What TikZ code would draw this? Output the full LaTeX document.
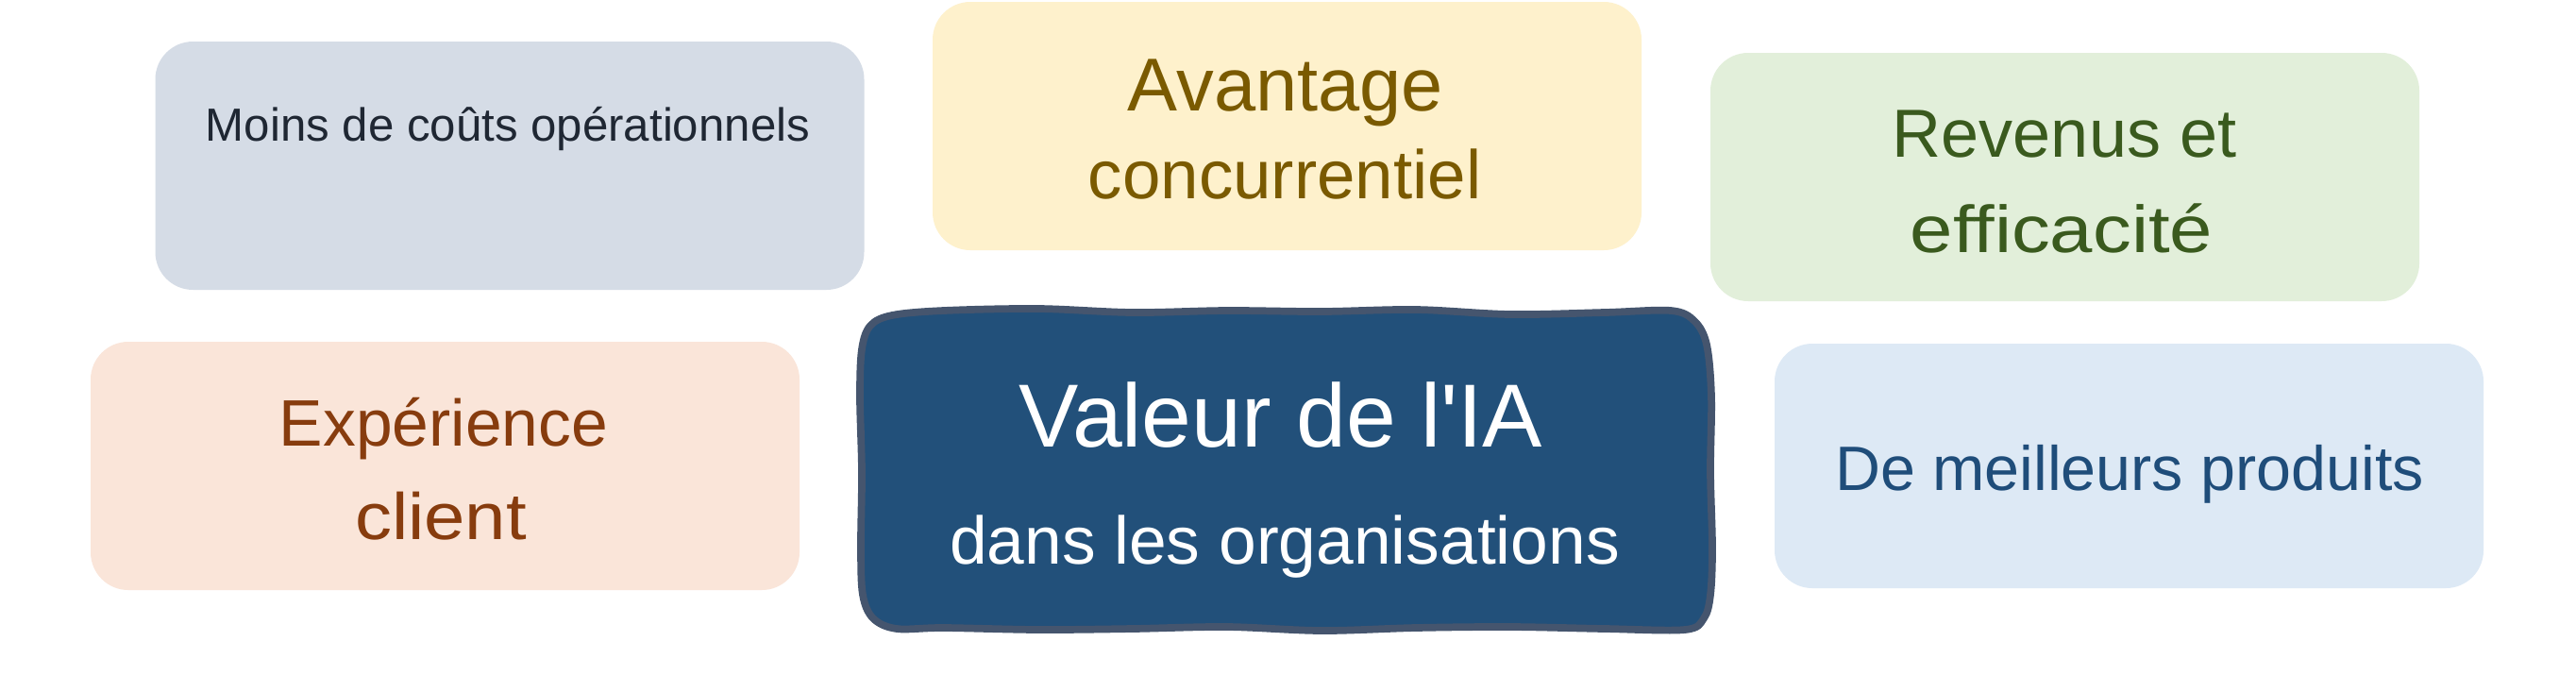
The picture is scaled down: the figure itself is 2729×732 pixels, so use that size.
\documentclass[tikz,border=0pt]{standalone}
\usepackage{fontspec}
\setmainfont{Liberation Sans}[Ligatures=TeXOff]
\definecolor{moinsF}{HTML}{D5DCE6}
\definecolor{moinsT}{HTML}{1F2733}
\definecolor{avantF}{HTML}{FEF1CC}
\definecolor{avantT}{HTML}{7A5A00}
\definecolor{revenF}{HTML}{E2EFDA}
\definecolor{revenT}{HTML}{3A5A1E}
\definecolor{experF}{HTML}{FAE5D9}
\definecolor{experT}{HTML}{873C0E}
\definecolor{meillF}{HTML}{DDE9F5}
\definecolor{meillT}{HTML}{1F4D7A}
\definecolor{centF}{HTML}{22507A}
\definecolor{centB}{HTML}{45556E}
\newcommand{\fs}[1]{\fontsize{#1}{#1}\selectfont}
\begin{document}
\begin{tikzpicture}[x=0.1mm,y=-0.1mm,
  box/.style={draw=none, rounded corners=4mm, inner sep=0pt, minimum width=75.1mm, minimum height=26.3mm},
  lbl/.style={anchor=base, inner sep=0pt}]
\useasboundingbox (0,0) rectangle (2729,732);
\fill[white] (0,0) rectangle (2729,732);
% outer boxes
\node[box, fill=moinsF] (moins) at (540,175.5) {};
\node[box, fill=avantF] (avant) at (1363.5,133.5) {};
\node[box, fill=revenF] (reven) at (2187.5,187.5) {};
\node[box, fill=experF] (exper) at (471.5,493.5) {};
\node[box, fill=meillF, minimum height=25.9mm] (meill) at (2255.5,493.5) {};
% central box
\node[inner sep=0pt, minimum width=90mm, minimum height=34mm] (cent) at (1362,499) {};
\draw[line width=2.2pt, draw=centB, fill=centF, line join=round]
  plot[smooth cycle, tension=0.55] coordinates {
  (945,334) (1000,329) (1100,327) (1200,331) (1300,329) (1400,330) (1500,328)
  (1600,333) (1700,331) (1770,329) (1795,340) (1808,365)
  (1813,420) (1812,500) (1814,580) (1812,630) (1805,655) (1785,667)
  (1700,666) (1600,664) (1500,665) (1400,668) (1300,664) (1200,666)
  (1100,667) (1000,665) (950,666) (925,655) (914,630)
  (912,580) (913,500) (911,420) (913,370) (922,345)};
% labels
\node[lbl, text=moinsT, font=\fs{14pt}] (moinsA) at (538,149) {Moins de coûts opérationnels};
\node[lbl, text=avantT, font=\fs{22.6pt}] (avantA) at (1362,117) {Avantage};
\node[lbl, text=avantT, font=\fs{20.7pt}] (avantB) at (1361,210) {concurrentiel};
\node[lbl, text=revenT, font=\fs{20.5pt}] (revenA) at (2187,166) {Revenus et};
\node[lbl, text=revenT, font=\fs{20pt}] (revenB) at (2184,267) {\scalebox{1.16}[1]{efficacité}};
\node[lbl, text=experT, font=\fs{19.8pt}] (experA) at (470,472) {Expérience};
\node[lbl, text=experT, font=\fs{19.8pt}] (experB) at (467,571) {\scalebox{1.12}[1]{client}};
\node[lbl, text=white, font=\fs{27pt}] (centA) at (1357,473) {Valeur de l'IA};
\node[lbl, text=white, font=\fs{20.3pt}] (centB) at (1361,597) {dans les organisations};
\node[lbl, text=meillT, font=\fs{18.9pt}] (meillA) at (2256,519) {De meilleurs produits};
\end{tikzpicture}
\end{document}
